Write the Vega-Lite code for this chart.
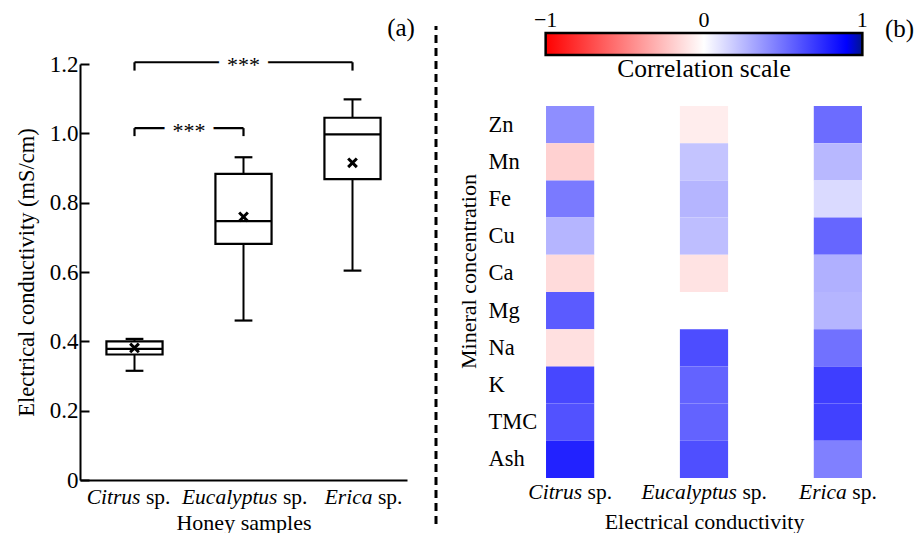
{
  "$schema": "https://vega.github.io/schema/vega-lite/v6.json",
  "background": "white",
  "padding": {"left": 15, "top": 8, "right": 0, "bottom": 0},
  "config": {
    "font": "Liberation Serif",
    "view": {"stroke": null},
    "axis": {"labelFont": "Liberation Serif", "titleFont": "Liberation Serif", "labelColor": "black", "titleColor": "black", "titleFontWeight": "normal", "domainColor": "black", "tickColor": "black", "grid": false},
    "text": {"font": "Liberation Serif", "color": "black"}
  },
  "datasets": {
    "boxes": [
      {"sample": "Citrus", "min": 0.315, "q1": 0.362, "median": 0.378, "q3": 0.400, "max": 0.407, "mean": 0.381},
      {"sample": "Eucalyptus", "min": 0.460, "q1": 0.681, "median": 0.747, "q3": 0.883, "max": 0.931, "mean": 0.759},
      {"sample": "Erica", "min": 0.604, "q1": 0.868, "median": 0.997, "q3": 1.045, "max": 1.098, "mean": 0.915}
    ],
    "brackets": [
      {"from": "Citrus", "to": "Erica", "y": 1.205, "ylo": 1.181, "label": "***"},
      {"from": "Citrus", "to": "Eucalyptus", "y": 1.015, "ylo": 0.992, "label": "***"}
    ],
    "cbticks": [{"v": -1}, {"v": 0}, {"v": 1}],
    "corr": [
      {"sample": "Citrus", "mineral": "Zn", "r": 0.40},
      {"sample": "Citrus", "mineral": "Mn", "r": -0.18},
      {"sample": "Citrus", "mineral": "Fe", "r": 0.47},
      {"sample": "Citrus", "mineral": "Cu", "r": 0.26},
      {"sample": "Citrus", "mineral": "Ca", "r": -0.14},
      {"sample": "Citrus", "mineral": "Mg", "r": 0.58},
      {"sample": "Citrus", "mineral": "Na", "r": -0.12},
      {"sample": "Citrus", "mineral": "K", "r": 0.65},
      {"sample": "Citrus", "mineral": "TMC", "r": 0.61},
      {"sample": "Citrus", "mineral": "Ash", "r": 0.78},
      {"sample": "Eucalyptus", "mineral": "Zn", "r": -0.07},
      {"sample": "Eucalyptus", "mineral": "Mn", "r": 0.21},
      {"sample": "Eucalyptus", "mineral": "Fe", "r": 0.26},
      {"sample": "Eucalyptus", "mineral": "Cu", "r": 0.23},
      {"sample": "Eucalyptus", "mineral": "Ca", "r": -0.11},
      {"sample": "Eucalyptus", "mineral": "Na", "r": 0.63},
      {"sample": "Eucalyptus", "mineral": "K", "r": 0.55},
      {"sample": "Eucalyptus", "mineral": "TMC", "r": 0.55},
      {"sample": "Eucalyptus", "mineral": "Ash", "r": 0.62},
      {"sample": "Erica", "mineral": "Zn", "r": 0.52},
      {"sample": "Erica", "mineral": "Mn", "r": 0.25},
      {"sample": "Erica", "mineral": "Fe", "r": 0.13},
      {"sample": "Erica", "mineral": "Cu", "r": 0.54},
      {"sample": "Erica", "mineral": "Ca", "r": 0.28},
      {"sample": "Erica", "mineral": "Mg", "r": 0.26},
      {"sample": "Erica", "mineral": "Na", "r": 0.50},
      {"sample": "Erica", "mineral": "K", "r": 0.68},
      {"sample": "Erica", "mineral": "TMC", "r": 0.67},
      {"sample": "Erica", "mineral": "Ash", "r": 0.45}
    ]
  },
  "spacing": 19,
  "hconcat": [
    {
      "width": 327,
      "height": 416,
      "encoding": {
        "x": {"field": "sample", "type": "nominal", "title": "Honey samples",
              "scale": {"domain": ["Citrus", "Eucalyptus", "Erica"], "paddingInner": 0, "paddingOuter": 0},
              "axis": {"labels": false, "ticks": false, "domainWidth": 2, "titleFontSize": 22, "titlePadding": 32}}
      },
      "layer": [
        {
          "data": {"name": "boxes"},
          "mark": {"type": "rule", "strokeWidth": 2, "color": "black"},
          "encoding": {
            "y": {"field": "min", "type": "quantitative", "title": "Electrical conductivity (mS/cm)",
                  "scale": {"domain": [0, 1.2], "nice": false, "zero": true},
                  "axis": {"values": [0, 0.2, 0.4, 0.6, 0.8, 1.0, 1.2], "labelExpr": "datum.value == 0 ? '0' : format(datum.value, '.1f')",
                           "labelFontSize": 23, "tickSize": -9, "tickWidth": 2, "labelPadding": 11, "domainWidth": 2,
                           "titleFontSize": 22.5, "titlePadding": 11}},
            "y2": {"field": "max", "title": "Electrical conductivity (mS/cm)"}
          }
        },
        {
          "data": {"name": "boxes"},
          "mark": {"type": "bar", "fill": "white", "stroke": "black", "strokeWidth": 2.2, "width": {"band": 0.515}},
          "encoding": {
            "y": {"field": "q1", "type": "quantitative", "title": "Electrical conductivity (mS/cm)"},
            "y2": {"field": "q3", "title": "Electrical conductivity (mS/cm)"}
          }
        },
        {
          "data": {"name": "boxes"},
          "mark": {"type": "rule", "strokeWidth": 2.2, "color": "black"},
          "encoding": {
            "x": {"field": "sample", "type": "nominal", "bandPosition": 0.2425, "title": "Honey samples"},
            "x2": {"field": "sample", "bandPosition": 0.7575, "title": "Honey samples"},
            "y": {"field": "median", "type": "quantitative", "title": "Electrical conductivity (mS/cm)"}
          }
        },
        {
          "data": {"name": "boxes"},
          "mark": {"type": "rule", "strokeWidth": 2.2, "color": "black"},
          "encoding": {
            "x": {"field": "sample", "type": "nominal", "bandPosition": 0.4185, "title": "Honey samples"},
            "x2": {"field": "sample", "bandPosition": 0.5815, "title": "Honey samples"},
            "y": {"field": "min", "type": "quantitative", "title": "Electrical conductivity (mS/cm)"}
          }
        },
        {
          "data": {"name": "boxes"},
          "mark": {"type": "rule", "strokeWidth": 2.2, "color": "black"},
          "encoding": {
            "x": {"field": "sample", "type": "nominal", "bandPosition": 0.4185, "title": "Honey samples"},
            "x2": {"field": "sample", "bandPosition": 0.5815, "title": "Honey samples"},
            "y": {"field": "max", "type": "quantitative", "title": "Electrical conductivity (mS/cm)"}
          }
        },
        {
          "data": {"name": "boxes"},
          "mark": {"type": "point", "shape": "M-1,-1L1,1M-1,1L1,-1", "size": 75, "filled": false, "strokeWidth": 3, "color": "black", "opacity": 1},
          "encoding": {
            "y": {"field": "mean", "type": "quantitative", "title": "Electrical conductivity (mS/cm)"}
          }
        },
        {
          "data": {"name": "brackets"},
          "mark": {"type": "rule", "strokeWidth": 2.2, "color": "black"},
          "encoding": {
            "x": {"field": "from", "type": "nominal", "title": "Honey samples"},
            "x2": {"field": "to", "title": "Honey samples"},
            "y": {"field": "y", "type": "quantitative", "title": "Electrical conductivity (mS/cm)"}
          }
        },
        {
          "data": {"name": "brackets"},
          "mark": {"type": "rule", "strokeWidth": 2.2, "color": "black"},
          "encoding": {
            "x": {"field": "from", "type": "nominal", "title": "Honey samples"},
            "y": {"field": "y", "type": "quantitative", "title": "Electrical conductivity (mS/cm)"},
            "y2": {"field": "ylo", "title": "Electrical conductivity (mS/cm)"}
          }
        },
        {
          "data": {"name": "brackets"},
          "mark": {"type": "rule", "strokeWidth": 2.2, "color": "black"},
          "encoding": {
            "x": {"field": "to", "type": "nominal", "title": "Honey samples"},
            "y": {"field": "y", "type": "quantitative", "title": "Electrical conductivity (mS/cm)"},
            "y2": {"field": "ylo", "title": "Electrical conductivity (mS/cm)"}
          }
        },
        {
          "data": {"name": "brackets"},
          "transform": [{"filter": "datum.to == 'Erica'"}],
          "mark": {"type": "text", "fontSize": 22, "baseline": "alphabetic", "dy": 10, "stroke": "white", "strokeWidth": 18, "strokeJoin": "round", "fill": "white"},
          "encoding": {
            "x": {"field": "from", "type": "nominal", "bandPosition": 1.5, "title": "Honey samples"},
            "y": {"field": "y", "type": "quantitative", "title": "Electrical conductivity (mS/cm)"},
            "text": {"field": "label"}
          }
        },
        {
          "data": {"name": "brackets"},
          "transform": [{"filter": "datum.to == 'Erica'"}],
          "mark": {"type": "text", "fontSize": 22, "baseline": "alphabetic", "dy": 10, "color": "black"},
          "encoding": {
            "x": {"field": "from", "type": "nominal", "bandPosition": 1.5, "title": "Honey samples"},
            "y": {"field": "y", "type": "quantitative", "title": "Electrical conductivity (mS/cm)"},
            "text": {"field": "label"}
          }
        },
        {
          "data": {"name": "brackets"},
          "transform": [{"filter": "datum.to == 'Eucalyptus'"}],
          "mark": {"type": "text", "fontSize": 22, "baseline": "alphabetic", "dy": 10, "stroke": "white", "strokeWidth": 18, "strokeJoin": "round", "fill": "white"},
          "encoding": {
            "x": {"field": "from", "type": "nominal", "bandPosition": 1.0, "title": "Honey samples"},
            "y": {"field": "y", "type": "quantitative", "title": "Electrical conductivity (mS/cm)"},
            "text": {"field": "label"}
          }
        },
        {
          "data": {"name": "brackets"},
          "transform": [{"filter": "datum.to == 'Eucalyptus'"}],
          "mark": {"type": "text", "fontSize": 22, "baseline": "alphabetic", "dy": 10, "color": "black"},
          "encoding": {
            "x": {"field": "from", "type": "nominal", "bandPosition": 1.0, "title": "Honey samples"},
            "y": {"field": "y", "type": "quantitative", "title": "Electrical conductivity (mS/cm)"},
            "text": {"field": "label"}
          }
        },
        {
          "data": {"name": "boxes"},
          "mark": {"type": "text", "fontSize": 21.5, "fontStyle": "italic", "align": "right", "baseline": "alphabetic",
                   "dx": {"expr": "datum.sample == 'Citrus' ? 6 : datum.sample == 'Eucalyptus' ? 34 : 20"}},
          "encoding": {
            "y": {"datum": -0.069, "type": "quantitative", "title": "Electrical conductivity (mS/cm)"},
            "text": {"field": "sample"}
          }
        },
        {
          "data": {"name": "boxes"},
          "mark": {"type": "text", "fontSize": 21.5, "align": "left", "baseline": "alphabetic",
                   "dx": {"expr": "datum.sample == 'Citrus' ? 11.4 : datum.sample == 'Eucalyptus' ? 39.4 : 25.4"}},
          "encoding": {
            "y": {"datum": -0.069, "type": "quantitative", "title": "Electrical conductivity (mS/cm)"},
            "text": {"value": "sp."}
          }
        },
        {
          "data": {"values": [{"tag": "(a)"}]},
          "mark": {"type": "text", "fontSize": 25, "align": "center", "baseline": "middle"},
          "encoding": {
            "x": {"datum": "Erica", "type": "nominal", "bandPosition": 0.945, "title": "Honey samples"},
            "y": {"datum": 1.304, "type": "quantitative", "title": "Electrical conductivity (mS/cm)"},
            "text": {"field": "tag"}
          }
        }
      ]
    },
    {
      "width": 2,
      "height": 460,
      "data": {"values": [{}]},
      "mark": {"type": "rule", "strokeDash": [8, 5], "strokeWidth": 3, "color": "black"},
      "encoding": {
        "x": {"datum": 0, "type": "quantitative", "scale": {"domain": [-1, 1]}, "axis": null},
        "y": {"datum": 0, "type": "quantitative", "scale": {"domain": [0, 1], "nice": false}, "axis": null},
        "y2": {"datum": 1.0826}
      }
    },
    {
      "width": 324,
      "height": 414,
      "resolve": {"scale": {"x": "independent"}, "axis": {"x": "independent"}},
      "layer": [
        {
          "layer": [
            {
              "data": {"name": "corr"},
              "mark": {"type": "rect"},
              "encoding": {
                "x": {"field": "sample", "type": "nominal", "title": "Electrical conductivity",
                      "scale": {"domain": ["Citrus", "Eucalyptus", "Erica"], "paddingInner": 0.64, "paddingOuter": 0.03},
                      "axis": {"labels": false, "ticks": false, "domain": false, "titleFontSize": 22, "titlePadding": 33}},
                "y": {"field": "mineral", "type": "nominal", "title": "Mineral concentration",
                      "scale": {"domain": ["Zn", "Mn", "Fe", "Cu", "Ca", "Mg", "Na", "K", "TMC", "Ash"], "paddingInner": 0, "paddingOuter": 0.5645, "align": 1},
                      "axis": {"domain": false, "ticks": false, "tickSize": 0, "labelAlign": "left", "labelPadding": 54, "labelFontSize": 22.5,
                               "titleFontSize": 22, "titlePadding": 8}},
                "color": {"field": "r", "type": "quantitative",
                          "scale": {"domain": [-1, 0, 0.9, 1], "range": ["#ff0000", "#ffffff", "#0000ff", "#00148c"], "interpolate": "rgb"},
                          "legend": null}
              }
            },
            {
              "data": {"name": "boxes"},
              "mark": {"type": "text", "fontSize": 21.5, "fontStyle": "italic", "align": "right", "baseline": "alphabetic",
                       "dx": {"expr": "datum.sample == 'Citrus' ? 12 : datum.sample == 'Eucalyptus' ? 33 : 9"}},
              "encoding": {
                "x": {"field": "sample", "type": "nominal", "title": "Electrical conductivity"},
                "y": {"datum": "Ash", "type": "nominal", "bandPosition": 1.56, "title": "Mineral concentration"},
                "text": {"field": "sample"}
              }
            },
            {
              "data": {"name": "boxes"},
              "mark": {"type": "text", "fontSize": 21.5, "align": "left", "baseline": "alphabetic",
                       "dx": {"expr": "datum.sample == 'Citrus' ? 17.4 : datum.sample == 'Eucalyptus' ? 38.4 : 14.4"}},
              "encoding": {
                "x": {"field": "sample", "type": "nominal", "title": "Electrical conductivity"},
                "y": {"datum": "Ash", "type": "nominal", "bandPosition": 1.56, "title": "Mineral concentration"},
                "text": {"value": "sp."}
              }
            },
            {
              "data": {"values": [{"tag": "(b)"}]},
              "mark": {"type": "text", "fontSize": 25, "align": "center", "baseline": "middle"},
              "encoding": {
                "x": {"datum": "Erica", "type": "nominal", "bandPosition": 1.78, "title": "Electrical conductivity"},
                "y": {"datum": "Zn", "type": "nominal", "bandPosition": -2.07, "title": "Mineral concentration"},
                "text": {"field": "tag"}
              }
            }
          ]
        },
        {
          "layer": [
            {
              "data": {"values": [{}]},
              "mark": {"type": "rect", "stroke": "black", "strokeWidth": 2.5,
                       "fill": {"gradient": "linear", "x1": 0, "y1": 0, "x2": 1, "y2": 0,
                                "stops": [{"offset": 0, "color": "#ff0000"}, {"offset": 0.5, "color": "#ffffff"}, {"offset": 0.95, "color": "#0000ff"}, {"offset": 1, "color": "#00148c"}]}},
              "encoding": {
                "x": {"datum": -1, "type": "quantitative", "scale": {"domain": [-1.023, 1.023], "nice": false, "zero": false}, "axis": null},
                "x2": {"datum": 1},
                "y": {"datum": "Zn", "type": "nominal", "bandPosition": -1.962, "title": "Mineral concentration"},
                "y2": {"datum": "Zn", "bandPosition": -1.371}
              }
            },
            {
              "data": {"name": "cbticks"},
              "mark": {"type": "text", "fontSize": 22, "align": "center", "baseline": "alphabetic"},
              "encoding": {
                "x": {"field": "v", "type": "quantitative", "axis": null},
                "y": {"datum": "Zn", "type": "nominal", "bandPosition": -2.124, "title": "Mineral concentration"},
                "text": {"field": "v", "type": "quantitative", "format": "d"}
              }
            },
            {
              "data": {"values": [{"name": "Correlation scale"}]},
              "mark": {"type": "text", "fontSize": 25.5, "align": "center", "baseline": "alphabetic"},
              "encoding": {
                "x": {"datum": 0, "type": "quantitative", "axis": null},
                "y": {"datum": "Zn", "type": "nominal", "bandPosition": -0.78, "title": "Mineral concentration"},
                "text": {"field": "name"}
              }
            }
          ]
        }
      ]
    }
  ]
}
